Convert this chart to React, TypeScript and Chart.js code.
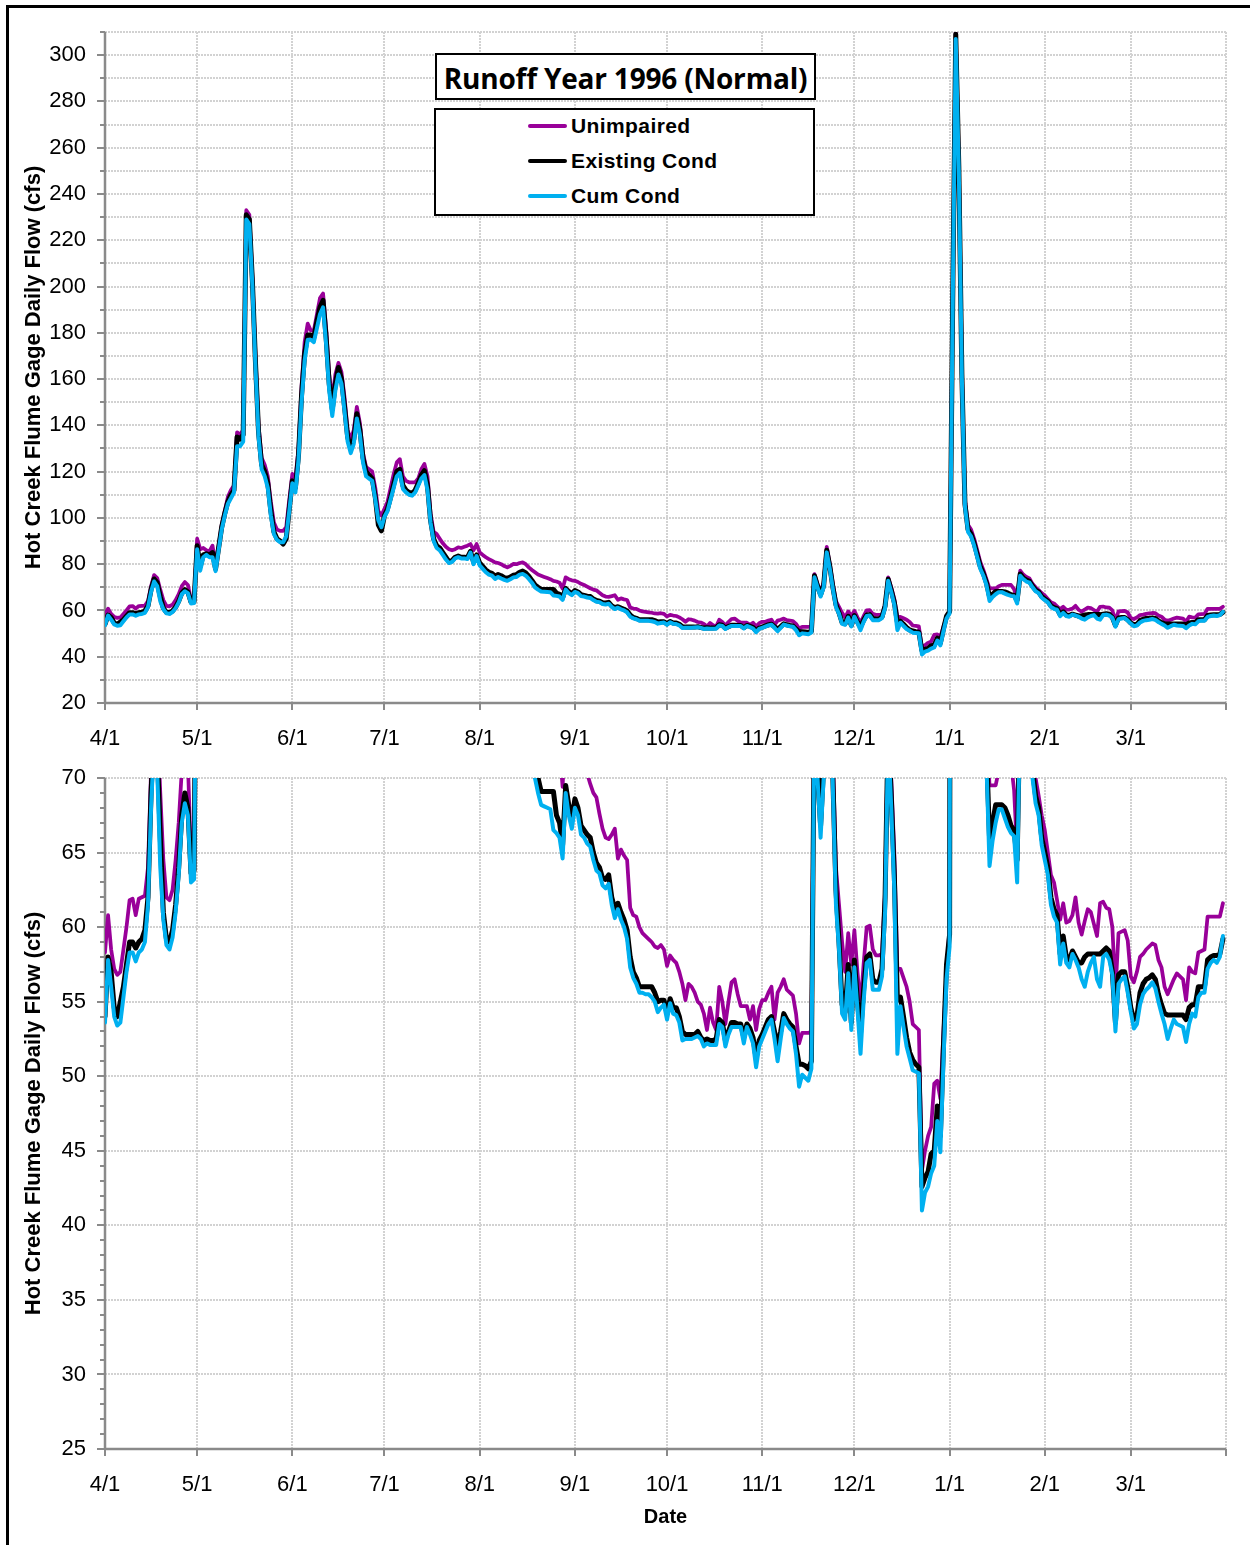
import React, { useEffect, useRef } from 'react';
import { Chart, registerables } from 'chart.js';

Chart.register(...registerables);

// ---- x axis: days since 4/1/1996 ----
const MONTH_TICKS = [0, 30, 61, 91, 122, 153, 183, 214, 244, 275, 306, 334, 365];
const MONTH_LABELS = ['4/1', '5/1', '6/1', '7/1', '8/1', '9/1', '10/1', '11/1', '12/1', '1/1', '2/1', '3/1', ''];

const SERIES_NAMES = ['Unimpaired', 'Existing Cond', 'Cum Cond'];
const SERIES_COLORS = ['#990099', '#000000', '#00B0F0'];

const TITLE = 'Runoff Year 1996 (Normal)';
const Y_TITLE = 'Hot Creek Flume Gage Daily Flow (cfs)';
const X_TITLE = 'Date';

// ---- daily flows (cfs), 4/1/1996 .. 3/31/1997 ----
const UNIMPAIRED = [
  58.3, 60.8, 58.5, 57.2, 56.8, 57.0, 58.5, 60.0, 61.8, 61.9,
  60.8, 61.9, 62.0, 62.1, 64.0, 70.5, 75.3, 74.0, 69.0, 64.5,
  62.0, 61.8, 62.5, 64.5, 67.0, 70.5, 72.3, 71.0, 64.5, 64.5,
  91, 86.5, 87, 86, 85.5, 88, 80, 88, 97, 103,
  109, 112, 114, 137, 136, 138, 233, 231, 204, 170,
  140, 126, 123, 118, 107, 98, 95, 94.4, 94.4, 96,
  108, 119, 117, 130, 157, 176, 184, 181, 181, 188,
  195, 197, 182, 162, 151, 162, 167, 163, 152, 138,
  134, 138, 148, 141, 128, 122, 121, 120, 113, 103,
  101, 104, 107, 113, 119, 124, 125.4, 118, 116, 115.4,
  115.4, 115.4, 117, 121, 123.3, 118, 102, 94, 93, 91,
  89, 87.5, 86.5, 86, 86.5, 87.3, 87, 87.5, 88, 88.7,
  86, 88.7, 85.1, 84, 83, 82.2, 81.5, 80.8, 80.5, 80,
  79.2, 78.6, 79.3, 80.1, 80, 80.5, 80.8, 80, 78.6, 77.5,
  76.5, 75.5, 75, 74.5, 74, 73.5, 72.8, 72.5, 72, 69.4,
  74.3, 73.5, 73, 72.8, 72.3, 71.5, 71, 70.3, 69.6, 69,
  68.7, 67.6, 66.6, 66, 65.9, 66.2, 66.6, 64.6, 65.2, 64.8,
  64.5, 61.3, 60.8, 60.7, 60, 59.6, 59.4, 59.2, 59, 58.7,
  58.6, 58.8, 58.5, 57.4, 58.1, 57.8, 57.6, 57, 56.2, 55.1,
  56.2, 56, 55.6, 55, 54.8, 54.2, 53.1, 54.6, 53.6, 53.1,
  56, 55, 53.5, 55, 56.3, 56.5, 55.5, 54.7, 54.7, 54.7,
  53.8, 54.7, 53.1, 54.5, 55.1, 55.1, 55.6, 56, 53.8, 55.6,
  56, 56.5, 55.8, 55.6, 55.4, 54.2, 52.2, 52.9, 52.9, 52.9,
  53, 75.7, 71.5, 68.1, 72, 87.5, 80, 71.5, 64, 61.5,
  59, 57, 59.6, 57.5, 59.8, 57, 54.7, 57.5, 60, 60.1,
  58.5, 58.1, 58.1, 58.2, 62.5, 74.3, 70, 65, 57.2, 57.2,
  56.6, 56, 55, 53.5, 53.3, 53.1, 43.7, 45, 46, 46.6,
  49.5, 49.7, 48.5, 53, 57, 60, 194, 310, 254, 165,
  108, 97, 95, 91, 86, 81, 77.5, 73.5, 69.5, 69.5,
  69.5, 70.5, 71, 71, 71, 71, 69.2, 65, 77.2, 75.5,
  74.5, 73.8, 71.5, 70, 68.8, 67.5, 66.5, 65, 63.5, 63,
  61.8, 60.5, 61.6, 60.3, 60.4, 60.8, 62, 60.3, 59.5, 60.4,
  61.2, 61, 60.2, 59.4, 61.6, 61.7, 61.3, 61.2, 60, 55.6,
  59.6, 59.7, 59.8, 59.1, 56.7, 56.3, 57, 58, 58.2, 58.5,
  58.7, 58.9, 58.8, 57.8, 57.3, 56, 55.5, 56, 56.5, 56.9,
  56.7, 56.5, 55.1, 57.3, 57, 56.9, 58.3, 58.4, 58.5, 60.7,
  60.7, 60.7, 60.7, 60.7, 61.6,
];

const EXISTING = [
  54.0, 58.0, 57.0, 54.6, 54.0, 55.0, 56.0, 57.5, 59.0, 59.0,
  58.6, 59.0, 59.2, 59.8, 62.0, 69.0, 73.6, 72.0, 66.0, 61.0,
  59.2, 59.0, 59.8, 61.5, 64.0, 67.5, 69.0, 68.0, 63.6, 63.8,
  88, 79, 84, 84.5, 84, 85, 78, 87, 96, 102,
  107, 110, 112, 135, 134, 136, 231, 229, 202, 167,
  137, 123, 120, 115, 103, 94, 91, 90, 88.7, 91,
  104, 116, 113, 127, 153, 171, 179, 179, 178, 185,
  191, 194, 178, 158, 147, 158, 165, 160, 148, 135,
  130, 134, 145, 138, 126, 120, 118.5, 117, 109, 97,
  94.4, 101, 104, 109, 114.5, 120, 121, 114, 112, 111,
  110.5, 112, 115, 118.5, 120.4, 114, 99, 91, 88, 87,
  85, 83, 81, 81.5, 83, 83.5, 83, 83, 82.8, 85.5,
  81, 84, 80.5, 79, 77.5, 76.5, 76, 74.8, 75.5, 75,
  74.2, 73.8, 74.5, 75.2, 75.5, 76.5, 77, 76.2, 74.8, 73,
  71, 70, 69.1, 69.1, 69.1, 69.1, 69.1, 67.5, 67, 65.5,
  69.5, 68.2, 67.2, 68.6, 68, 66.8, 66.5, 66.2, 66, 65,
  64.3, 64, 63.3, 63.2, 63.5, 62, 61.2, 61.6, 61, 60.5,
  59.8, 58, 57, 56.6, 56, 56, 56, 56, 56, 55.6,
  55, 55.1, 55.1, 54.2, 55.2, 54.6, 54.6, 54, 53, 52.8,
  52.8, 52.8, 52.8, 53, 52.6, 52.4, 52.5, 52.4, 52.4, 52.5,
  53.8, 53.6, 52.4, 53, 53.6, 53.6, 53.5, 53.5, 52.6, 53.5,
  53.2, 52.6, 51.2, 52.4, 52.8, 53.3, 53.8, 54, 53, 52,
  53, 54.2, 53.8, 53.5, 53.3, 52, 50.8, 50.8, 50.7, 50.5,
  51, 75, 70.5, 66.8, 70.8, 86, 79, 70, 62.5, 59,
  54.8, 54.3, 57.5, 53.6, 57.8, 55, 52.9, 55.8, 58, 58.2,
  56.5, 56.3, 56.3, 57.2, 62, 73.5, 68.8, 63.5, 55.1, 55.3,
  54, 52.6, 51.6, 51.1, 50.8, 50.6, 42.6, 43.2, 43.6, 44.8,
  45, 48, 46, 52, 57.5, 59.5, 192, 309, 252, 162,
  106, 95, 93, 89, 84, 79, 76, 72, 66, 67,
  68.2, 68.2, 68.2, 68, 67.5, 66.8, 66.5, 64.5, 75.8, 74,
  73.2, 72.6, 70.6, 68.8, 68, 66, 65, 64, 62, 61.2,
  60.8, 58.2, 59.4, 58, 57.8, 58.4, 58, 57.6, 57.6, 58,
  58.2, 58.2, 58.2, 58.2, 58.2, 58.4, 58.6, 58.4, 57, 53.6,
  56.8, 57, 57, 56, 54.6, 53.8, 54, 55.6, 56.2, 56.5,
  56.6, 56.8, 56.5, 55.5, 54.8, 54.2, 54.1, 54.1, 54.1, 54.1,
  54.1, 54.1, 53.8, 54.6, 54.8, 54.8, 56, 56, 56, 57.8,
  58, 58.1, 58.1, 58.2, 59.2,
];

const CUM_COND = [
  53.6, 57.8, 56.0, 54.0, 53.4, 53.6, 55.3, 57.0, 58.3, 58.3,
  57.7, 58.3, 58.5, 59.0, 61.5, 68.0, 72.5, 70.5, 64.0, 60.5,
  58.8, 58.5, 59.3, 61.0, 63.5, 67.0, 68.3, 67.5, 63.0, 63.2,
  86.5, 77.2, 83.0, 84.0, 83.0, 83.0, 77.0, 86.0, 95.0, 101.0,
  106.0, 108.5, 111.0, 131.0, 131.0, 133.0, 229.0, 227.0, 200.0, 165.0,
  135, 121, 118, 113, 101, 93, 90.5, 89.5, 89.5, 92,
  103, 115, 111, 125, 150, 168, 177, 177, 176, 182,
  188, 191, 175, 155, 144, 155, 162, 158, 146, 133,
  128, 132, 143, 136, 124, 118, 117, 116, 108, 99,
  96, 100.5, 103, 108, 113, 118, 119.5, 112.5, 111, 110,
  109.6, 111, 114, 117, 118.5, 112, 98, 90, 87, 86,
  84, 82, 80.5, 81, 82.5, 83, 82.5, 82.5, 82.2, 85,
  80, 83.5, 79.5, 78, 76.5, 75.5, 75, 73.6, 74.5, 73.8,
  73.2, 72.8, 73.5, 74.3, 74.5, 75.5, 75.8, 75, 73.6, 72,
  70, 69, 68.2, 68.1, 68, 67.9, 66.5, 66.3, 66, 64.6,
  69, 67.5, 66.6, 68, 67.5, 66.2, 66, 65.6, 65.4, 64.5,
  63.8, 63.6, 62.8, 62.6, 62.9, 61.5, 60.6, 61.2, 60.5, 60,
  59.2, 57.3, 56.6, 56.2, 55.6, 55.6, 55.5, 55.5, 55.3, 55,
  54.3, 54.6, 54.8, 53.8, 54.9, 54.2, 54.1, 53.6, 52.4, 52.5,
  52.5, 52.5, 52.6, 52.7, 52.5, 52, 52.2, 52.1, 52.1, 52.1,
  53.5, 53.3, 52, 52.8, 53.3, 53.3, 53.3, 53.3, 52.2, 53.3,
  52.8, 52.2, 50.6, 52, 52.5, 53, 53.5, 53.8, 52.5, 51,
  52.5, 53.9, 53.5, 53.2, 53, 51.5, 49.3, 50.1, 49.9, 49.7,
  50.5, 74.3, 70, 66, 70, 85.1, 78, 69.3, 61.5, 58.5,
  54.2, 53.8, 56.9, 53.1, 57.3, 54.5, 51.5, 55, 57.6, 57.8,
  55.8, 55.8, 55.8, 56.7, 61, 72.8, 68, 62.5, 51.5, 54.7,
  53.3, 52, 51.2, 50.4, 50.3, 50.2, 41, 42.2, 42.6, 43.5,
  44, 47, 44.9, 51, 56.5, 58.7, 190, 307, 250, 160,
  105, 94, 92, 88, 83, 78, 75, 71, 64.1, 65.8,
  67, 67.9, 67.9, 67.3, 66.7, 66.3, 66.1, 63, 75, 73.5,
  72.5, 72, 70, 68.3, 67.5, 65.5, 64.5, 63.5, 61.5, 60.7,
  60.3, 57.5, 58.9, 57.6, 57.3, 58.2, 57.8, 57.3, 56.5, 56,
  57, 57.6, 58, 56.5, 56, 58, 58.2, 57.8, 56.8, 53,
  56.2, 56.5, 56.7, 55.6, 54.3, 53.2, 53.5, 54.8, 55.5, 55.8,
  56, 56.3, 55.9, 55, 54.2, 53.5, 52.5, 53.2, 53.8, 53.5,
  53.4, 53.3, 52.3, 53.5, 54.2, 54, 55.3, 55.6, 55.6, 57.2,
  57.6, 57.8, 57.6, 58, 59.4,
];

// ---- y axis settings of the two panels ----
const TOP_Y_MIN = 20;
const TOP_Y_MAX = 310;
const TOP_Y_STEP = 10;
const TOP_Y_LABEL_STEP = 20;

const BOTTOM_Y_MIN = 25;
const BOTTOM_Y_MAX = 70;
const BOTTOM_Y_STEP = 5;
const BOTTOM_Y_MINOR = 1;

const AXIS_COLOR = '#8a8a8a';
const GRID_COLOR = '#d2d2d2';
const SANS = "'Liberation Sans', Arial, sans-serif";
const NARROW = "'Liberation Sans Narrow', 'Arial Narrow', 'Liberation Sans', sans-serif";

const axisDeco = {
  id: 'axisDeco',
  beforeDatasetsDraw(chart: any, _args: any, opts: any) {
    const { ctx } = chart;
    const xs = chart.scales.x;
    const ys = chart.scales.y;
    ctx.save();
    ctx.setLineDash([]);
    ctx.strokeStyle = AXIS_COLOR;
    ctx.lineWidth = 2;
    const n = Math.round((ys.max - ys.min) / opts.minorStep);
    for (let i = 0; i <= n; i++) {
      const v = ys.min + i * opts.minorStep;
      const y = Math.round(ys.getPixelForValue(v));
      const major = Math.abs(v % opts.majorStep) < 1e-6;
      const len = major ? 8 : 5;
      ctx.beginPath();
      ctx.moveTo(xs.left - len, y);
      ctx.lineTo(xs.left, y);
      ctx.stroke();
    }
    for (const t of xs.ticks) {
      const x = Math.round(xs.getPixelForValue(t.value));
      ctx.beginPath();
      ctx.moveTo(x, ys.bottom);
      ctx.lineTo(x, ys.bottom + 7);
      ctx.stroke();
    }
    ctx.lineWidth = 2.5;
    ctx.beginPath();
    ctx.moveTo(xs.left, ys.top);
    ctx.lineTo(xs.left, ys.bottom);
    ctx.moveTo(xs.left, ys.bottom);
    ctx.lineTo(xs.right, ys.bottom);
    ctx.stroke();
    ctx.restore();
  },
};

type Panel = {
  yMin: number;
  yMax: number;
  yStep: number;
  yLabel: (v: number) => string;
  minorStep: number;
  majorStep: number;
  padTop: number;
  xAxisHeight: number;
  font: string;
  showDate: boolean;
};

function makeConfig(p: Panel): any {
  const toXY = (arr: number[]) => arr.map((v, i) => ({ x: i, y: v }));
  const values = [UNIMPAIRED, EXISTING, CUM_COND];
  const widths = [3.75, 5, 4];
  const orders = [3, 2, 1];
  return {
    type: 'line',
    data: {
      datasets: values.map((arr, k) => ({
        label: SERIES_NAMES[k],
        data: toXY(arr),
        borderColor: SERIES_COLORS[k],
        backgroundColor: SERIES_COLORS[k],
        borderWidth: widths[k],
        order: orders[k],
        pointRadius: 0,
        tension: 0,
        borderJoinStyle: 'round',
        borderCapStyle: 'round',
        clip: 0,
      })),
    },
    options: {
      responsive: false,
      animation: false,
      devicePixelRatio: 1,
      layout: { padding: { top: p.padTop, right: 24, left: 0, bottom: 0 } },
      plugins: {
        legend: { display: false },
        tooltip: { enabled: false },
        axisDeco: { minorStep: p.minorStep, majorStep: p.majorStep },
      },
      scales: {
        x: {
          type: 'linear',
          min: 0,
          max: 365,
          afterBuildTicks: (s: any) => {
            s.ticks = MONTH_TICKS.map((v) => ({ value: v }));
          },
          afterFit: (s: any) => {
            s.height = p.xAxisHeight;
            s.paddingLeft = 0;
            s.paddingRight = 0;
          },
          grid: { color: GRID_COLOR, lineWidth: 2, drawTicks: false },
          border: { display: false, dash: [2, 1] },
          ticks: {
            autoSkip: false,
            maxRotation: 0,
            padding: 23,
            color: '#000',
            font: { family: p.font, size: 22 },
            callback: (v: number) => {
              const i = MONTH_TICKS.indexOf(v);
              return i >= 0 ? MONTH_LABELS[i] : '';
            },
          },
          title: p.showDate
            ? {
                display: true,
                text: X_TITLE,
                color: '#000',
                font: { family: NARROW, size: 20, weight: 'bold' },
                padding: { top: 0, bottom: 16 },
              }
            : { display: false },
        },
        y: {
          type: 'linear',
          min: p.yMin,
          max: p.yMax,
          afterFit: (s: any) => {
            s.width = 105;
            s.paddingTop = 0;
            s.paddingBottom = 0;
          },
          grid: { color: GRID_COLOR, lineWidth: 2, drawTicks: false },
          border: { display: false, dash: [2, 1] },
          ticks: {
            stepSize: p.yStep,
            autoSkip: false,
            padding: 19,
            color: '#000',
            font: { family: p.font, size: 22 },
            callback: (v: number) => p.yLabel(v),
          },
          title: {
            display: true,
            text: Y_TITLE,
            color: '#000',
            font: { family: SANS, size: 22, weight: 'bold' },
            padding: { top: 21, bottom: 0 },
          },
        },
      },
    },
    plugins: [axisDeco],
  };
}

const TOP_PANEL: Panel = {
  yMin: TOP_Y_MIN,
  yMax: TOP_Y_MAX,
  yStep: TOP_Y_STEP,
  yLabel: (v) => (v % TOP_Y_LABEL_STEP === 0 ? String(v) : ''),
  minorStep: TOP_Y_STEP,
  majorStep: TOP_Y_LABEL_STEP,
  padTop: 32,
  xAxisHeight: 57,
  font: SANS,
  showDate: false,
};

const BOTTOM_PANEL: Panel = {
  yMin: BOTTOM_Y_MIN,
  yMax: BOTTOM_Y_MAX,
  yStep: BOTTOM_Y_STEP,
  yLabel: (v) => String(v),
  minorStep: BOTTOM_Y_MINOR,
  majorStep: BOTTOM_Y_STEP,
  padTop: 18,
  xAxisHeight: 96,
  font: NARROW,
  showDate: true,
};

export default function App() {
  const topRef = useRef<HTMLCanvasElement>(null);
  const botRef = useRef<HTMLCanvasElement>(null);

  useEffect(() => {
    document.body.style.margin = '0';
    const c1 = new Chart(topRef.current as HTMLCanvasElement, makeConfig(TOP_PANEL));
    const c2 = new Chart(botRef.current as HTMLCanvasElement, makeConfig(BOTTOM_PANEL));
    return () => {
      c1.destroy();
      c2.destroy();
    };
  }, []);

  const legendRows = [126, 161, 196];

  return (
    <div
      style={{
        position: 'fixed',
        left: 0,
        top: 0,
        width: 1250,
        height: 1545,
        overflow: 'hidden',
        background: '#fff',
      }}
    >
      <canvas ref={topRef} width={1250} height={760} style={{ position: 'absolute', left: 0, top: 0 }} />
      <canvas ref={botRef} width={1250} height={785} style={{ position: 'absolute', left: 0, top: 760 }} />
      <div
        style={{
          position: 'absolute',
          left: 6,
          top: 5,
          width: 1400,
          height: 1700,
          borderTop: '3px solid #000',
          borderLeft: '3px solid #000',
          pointerEvents: 'none',
        }}
      />
      <div
        style={{
          position: 'absolute',
          left: 435,
          top: 53,
          width: 381,
          height: 47,
          boxSizing: 'border-box',
          border: '2px solid #000',
          background: '#fff',
          display: 'flex',
          alignItems: 'center',
          justifyContent: 'center',
          paddingTop: 2,
          fontFamily: "'Open Sans', Lato, sans-serif",
          fontWeight: 700,
          fontSize: 28,
          letterSpacing: -0.2,
          whiteSpace: 'nowrap',
          color: '#000',
        }}
      >
        {TITLE}
      </div>
      <div
        style={{
          position: 'absolute',
          left: 434,
          top: 108,
          width: 381,
          height: 108,
          boxSizing: 'border-box',
          border: '2px solid #000',
          background: '#fff',
        }}
      />
      {SERIES_NAMES.map((name, k) => (
        <React.Fragment key={name}>
          <div
            style={{
              position: 'absolute',
              left: 528,
              top: legendRows[k] - 2,
              width: 39,
              height: 4,
              background: SERIES_COLORS[k],
              borderRadius: 2,
            }}
          />
          <div
            style={{
              position: 'absolute',
              left: 571,
              top: legendRows[k] - 13,
              height: 26,
              lineHeight: '26px',
              fontFamily: SANS,
              fontWeight: 700,
              fontSize: 21,
              letterSpacing: 0.4,
              whiteSpace: 'nowrap',
              color: '#000',
            }}
          >
            {name}
          </div>
        </React.Fragment>
      ))}
    </div>
  );
}
